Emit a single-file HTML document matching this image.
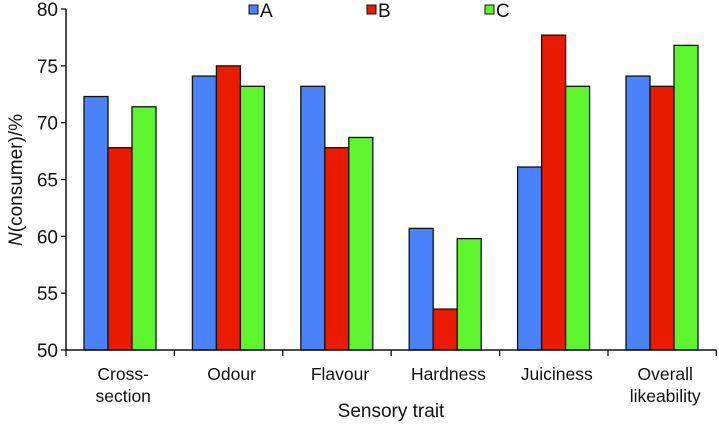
<!DOCTYPE html>
<html><head><meta charset="utf-8"><style>
body{margin:0;background:#fff;}
svg text{font-family:"Liberation Sans",Arial,sans-serif;fill:#111;}
</style></head><body>
<svg id="chart" width="719" height="423" xmlns="http://www.w3.org/2000/svg">
<g id="g"></g>
</svg>
<script>
const categories=[["Cross-","section"],["Odour"],["Flavour"],["Hardness"],["Juiciness"],["Overall","likeability"]];
const seriesNames=["A","B","C"];
const valuesA=[72.3,74.1,73.2,60.7,66.1,74.1];
const valuesB=[67.8,75.0,67.8,53.6,77.7,73.2];
const valuesC=[71.4,73.2,68.7,59.8,73.2,76.8];
const yTicks=[50,55,60,65,70,75,80];
const colors=["#4a82fa","#ea1b00","#5ef52e"];
const NS="http://www.w3.org/2000/svg";
const g=document.getElementById('g');
const X0=66,X1=716.4,Y0=350,Y1=9,YMIN=50,YMAX=80;
const gw=(X1-X0)/categories.length;
function y(v){return Y0-(v-YMIN)/(YMAX-YMIN)*(Y0-Y1);}
function mk(t,a,p){const e=document.createElementNS(NS,t);for(const k in a)e.setAttribute(k,a[k]);(p||g).appendChild(e);return e;}
const series=[valuesA,valuesB,valuesC];
series.forEach((vals,s)=>{vals.forEach((v,i)=>{
 const r=mk('rect',{x:X0+i*gw+18+s*24,y:y(v),width:24,height:Y0-y(v),fill:colors[s],stroke:'#111','stroke-width':1.3});
 
 
});});
let a=mk('line',{x1:X0,y1:Y1,x2:X0,y2:Y0+1,stroke:'#111','stroke-width':1.5});

a=mk('line',{x1:X0,y1:Y0,x2:X1,y2:Y0,stroke:'#111','stroke-width':1.5});

yTicks.forEach(t=>{
 mk('line',{x1:X0-5,y1:y(t),x2:X0,y2:y(t),stroke:'#111','stroke-width':1.3});
 const tx=mk('text',{x:X0-8,y:y(t)+7,'text-anchor':'end','font-size':19});tx.textContent=t;
 
});
for(let i=0;i<=categories.length;i++){mk('line',{x1:X0+i*gw,y1:Y0,x2:X0+i*gw,y2:Y0+6,stroke:'#111','stroke-width':1.3});}
categories.forEach((c,i)=>{c.forEach((ln,j)=>{
 const tx=mk('text',{x:X0+i*gw+gw/2+3,y:380+j*22,'text-anchor':'middle','font-size':17.5});tx.textContent=ln;
 
});});
let t=mk('text',{x:391,y:417,'text-anchor':'middle','font-size':19});t.textContent='Sensory trait';

t=mk('text',{x:0,y:0,'text-anchor':'middle','font-size':19,transform:'translate(22,180) rotate(-90)'});
t.innerHTML='<tspan font-style="italic">N</tspan>(consumer)/%';

const lx=[249,367,485];
seriesNames.forEach((n,s)=>{
 const r=mk('rect',{x:lx[s],y:5,width:9,height:9,fill:colors[s],stroke:'#111','stroke-width':1});
 
 const tx=mk('text',{x:lx[s]+11,y:17,'font-size':19});tx.textContent=n;
 
});
</script>
</body></html>
